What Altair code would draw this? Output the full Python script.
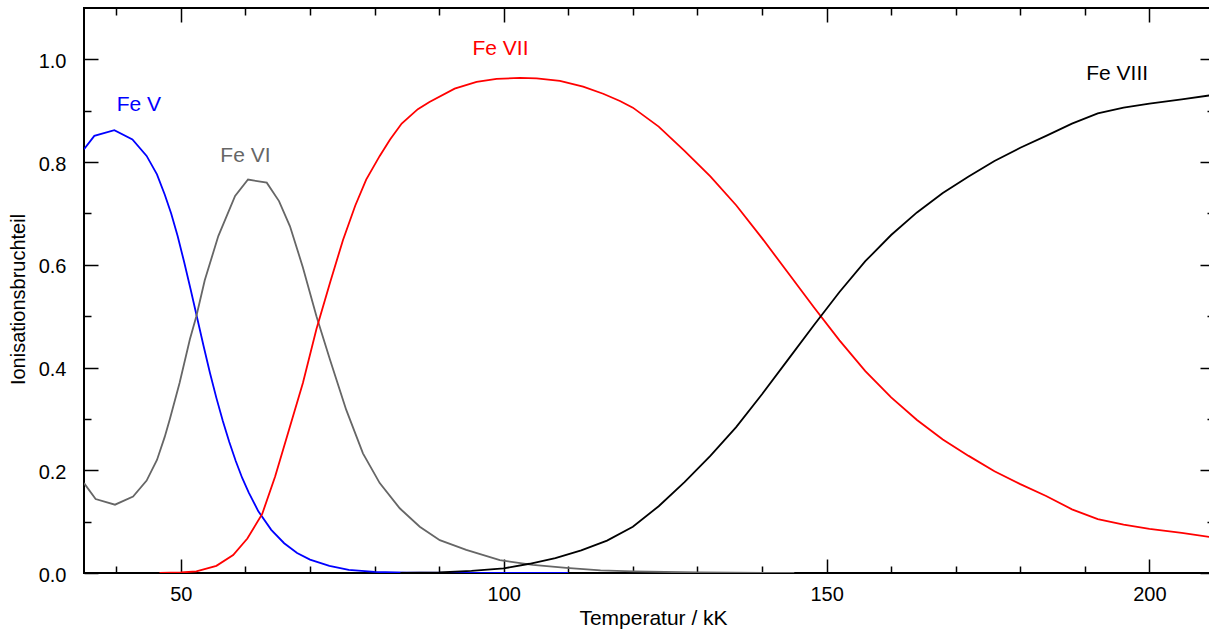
import altair as alt
import pandas as pd

# Ionisation fractions of iron versus temperature (kK)
fe5_T = [35.0, 36.6, 39.7, 42.5, 44.7, 46.3, 47.5, 48.5, 49.5, 50.5, 51.5, 52.5, 53.5,
         54.5, 55.5, 56.5, 57.5, 58.5, 59.5, 60.5, 62.0, 64.0, 66.0, 68.0, 70.0, 73.0,
         76.0, 80.0, 85.0, 95.0, 110.0]
fe5_f = [0.825, 0.851, 0.862, 0.844, 0.812, 0.776, 0.737, 0.700, 0.656, 0.606, 0.553,
         0.498, 0.443, 0.390, 0.341, 0.296, 0.255, 0.218, 0.185, 0.157, 0.120, 0.084,
         0.058, 0.039, 0.026, 0.014, 0.006, 0.002, 0.0005, 0.0, 0.0]

fe6_T = [35.0, 36.8, 39.8, 42.6, 44.7, 46.3, 47.5, 48.3, 49.8, 51.4, 52.4, 53.7, 55.8, 58.4,
         60.4, 63.3, 65.2, 66.9, 68.9, 71.0, 73.1, 75.6, 78.2, 80.8, 83.9, 87.0, 90.1,
         94.2, 99.4, 104.5, 109.7, 115.0, 120.0, 130.0, 145.0]
fe6_f = [0.175, 0.144, 0.133, 0.149, 0.180, 0.220, 0.265, 0.300, 0.370, 0.455, 0.500, 0.570,
         0.656, 0.734, 0.766, 0.760, 0.724, 0.675, 0.595, 0.500, 0.415, 0.318, 0.233, 0.175,
         0.126, 0.090, 0.064, 0.045, 0.025, 0.016, 0.010, 0.005, 0.003, 0.001, 0.0]

fe7_T = [46.7, 50.0, 52.4, 55.5, 58.1, 60.3, 62.6, 64.6, 66.9, 68.9, 71.0, 73.1, 75.1,
         77.0, 78.7, 80.8, 82.4, 84.2, 86.7, 88.5, 92.4, 95.8, 98.9, 102.5, 105.1, 108.7,
         112.3, 115.4, 118.0, 120.0, 124.0, 128.0, 132.0, 136.0, 140.0, 144.0, 148.0,
         152.0, 156.0, 160.0, 164.0, 168.0, 172.0, 176.0, 180.0, 184.0, 188.0, 192.0,
         196.0, 200.0, 205.0, 210.0]
fe7_f = [0.0, 0.001, 0.003, 0.014, 0.035, 0.067, 0.115, 0.188, 0.285, 0.370, 0.475, 0.565,
         0.648, 0.715, 0.766, 0.812, 0.844, 0.875, 0.903, 0.917, 0.943, 0.956, 0.962, 0.964,
         0.963, 0.958, 0.947, 0.933, 0.919, 0.906, 0.869, 0.822, 0.772, 0.716, 0.652, 0.585,
         0.518, 0.453, 0.393, 0.342, 0.298, 0.260, 0.228, 0.198, 0.173, 0.150, 0.124, 0.105,
         0.094, 0.086, 0.078, 0.069]

fe8_T = [84.0, 90.0, 95.0, 100.0, 104.0, 108.0, 112.0, 116.0, 120.0, 124.0, 128.0, 132.0,
         136.0, 140.0, 144.0, 148.0, 152.0, 156.0, 160.0, 164.0, 168.0, 172.0, 176.0,
         180.0, 184.0, 188.0, 192.0, 196.0, 200.0, 205.0, 210.0]
fe8_f = [0.0, 0.001, 0.004, 0.009, 0.018, 0.029, 0.044, 0.063, 0.090, 0.130, 0.177, 0.228,
         0.284, 0.348, 0.415, 0.482, 0.547, 0.607, 0.658, 0.702, 0.740, 0.772, 0.802, 0.828,
         0.851, 0.875, 0.895, 0.906, 0.914, 0.922, 0.931]

ions = ["Fe V", "Fe VI", "Fe VII", "Fe VIII"]
ion_colors = ["#0000ff", "#666666", "#ff0000", "#000000"]

# Curve labels
label_T = [43.5, 60.0, 99.5, 195.0]
label_f = [0.900, 0.800, 1.009, 0.959]

x_major = [50, 100, 150, 200]
x_minor = [40, 60, 70, 80, 90, 110, 120, 130, 140, 160, 170, 180, 190]
y_major = [0.0, 0.2, 0.4, 0.6, 0.8, 1.0]
y_minor = [0.1, 0.3, 0.5, 0.7, 0.9]

FONT = "Liberation Sans"

rows = []
for name, ts, fs in zip(ions, [fe5_T, fe6_T, fe7_T, fe8_T], [fe5_f, fe6_f, fe7_f, fe8_f]):
    for t, f in zip(ts, fs):
        rows.append({"ion": name, "T": t, "f": f})
curves = pd.DataFrame(rows)
labels_df = pd.DataFrame({"ion": ions, "T": label_T, "f": label_f})

xscale = alt.Scale(domain=[35, 210], nice=False, zero=False)
yscale = alt.Scale(domain=[0, 1.1], nice=False, zero=False)
cscale = alt.Scale(domain=ions, range=ion_colors)


def tick_axis(orient, values, size):
    # inward-pointing ticks: axis line pulled inside by the tick length
    return alt.Axis(orient=orient, values=values, tickSize=size, offset=-size,
                    domain=False, grid=False, labels=False, ticks=True,
                    tickColor="black", tickWidth=1.5)


x_main_axis = alt.Axis(orient="bottom", values=x_major, tickSize=14, offset=-14,
                       domain=False, grid=False, format="d", tickColor="black",
                       tickWidth=1.5, labelFont=FONT, labelFontSize=20, labelColor="black",
                       labelPadding=11, labelFlush=False, labelOverlap=False,
                       titleFont=FONT, titleFontSize=21, titleFontWeight="normal",
                       titleColor="black", titleX=569, titleY=65,
                       titleBaseline="alphabetic", titleAlign="center")
y_main_axis = alt.Axis(orient="left", values=y_major, tickSize=14, offset=-14,
                       domain=False, grid=False, format=".1f", tickColor="black",
                       tickWidth=1.5, labelFont=FONT, labelFontSize=20, labelColor="black",
                       labelPadding=18, labelOffset=2, labelFlush=False, labelOverlap=False,
                       titleFont=FONT, titleFontSize=20, titleFontWeight="normal",
                       titleColor="black", titleAngle=270, titleX=-74, titleY=291,
                       titleBaseline="alphabetic", titleAlign="center")

base = alt.Chart(curves)

lines = base.mark_line(strokeWidth=1.8, clip=True).encode(
    x=alt.X("T:Q", scale=xscale, axis=x_main_axis, title="Temperatur / kK"),
    y=alt.Y("f:Q", scale=yscale, axis=y_main_axis, title="Ionisationsbruchteil"),
    color=alt.Color("ion:N", scale=cscale, legend=None),
    detail="ion:N",
)

ghost = dict(opacity=0, clip=True)

minor_bl = base.mark_point(**ghost).encode(
    x=alt.X("T:Q", scale=xscale, axis=tick_axis("bottom", x_minor, 7), title=None),
    y=alt.Y("f:Q", scale=yscale, axis=tick_axis("left", y_minor, 7), title=None),
)
major_tr = base.mark_point(**ghost).encode(
    x=alt.X("T:Q", scale=xscale, axis=tick_axis("top", x_major, 14), title=None),
    y=alt.Y("f:Q", scale=yscale, axis=tick_axis("right", y_major, 14), title=None),
)
minor_tr = base.mark_point(**ghost).encode(
    x=alt.X("T:Q", scale=xscale, axis=tick_axis("top", x_minor, 7), title=None),
    y=alt.Y("f:Q", scale=yscale, axis=tick_axis("right", y_minor, 7), title=None),
)

texts = alt.Chart(labels_df).mark_text(
    font=FONT, fontSize=21, baseline="alphabetic", align="center"
).encode(
    x=alt.X("T:Q", scale=xscale, axis=None),
    y=alt.Y("f:Q", scale=yscale, axis=None),
    text="ion:N",
    color=alt.Color("ion:N", scale=cscale, legend=None),
)

chart = alt.layer(lines, minor_bl, major_tr, minor_tr, texts).resolve_axis(
    x="independent", y="independent"
).properties(
    width=1130,
    height=565,
    autosize=alt.AutoSizeParams(type="none"),
    padding={"left": 84, "top": 8, "right": -5, "bottom": 59},
    background="white",
).configure_view(
    stroke="black", strokeWidth=2
)

chart.save("out.html", embed_options={"renderer": "svg", "actions": False})
